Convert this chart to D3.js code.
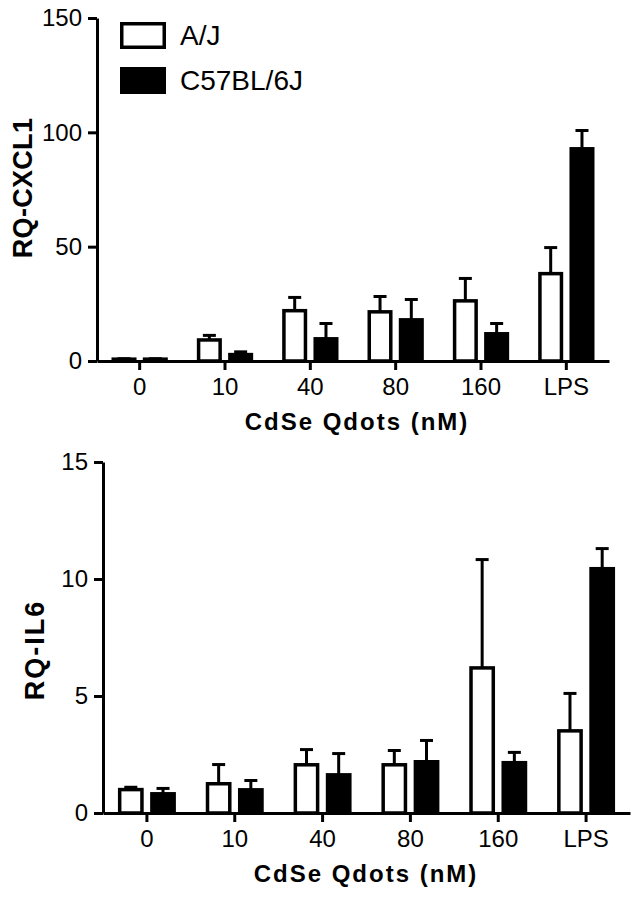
<!DOCTYPE html>
<html>
<head>
<meta charset="utf-8">
<script src="https://cdn.jsdelivr.net/npm/d3@7"></script>
<style>
  html, body { margin: 0; padding: 0; background: #fff; }
  svg { display: block; font-family: "Liberation Sans", Arial, sans-serif; }
</style>
</head>
<body>
<svg id="chart" width="638" height="911"></svg>
<script>
// ---- data ----
const categories = ["0", "10", "40", "80", "160", "LPS"];
const seriesNames = ["A/J", "C57BL/6J"];

const cxcl1AJ     = [0.8, 9.2, 22.0, 21.5, 26.3, 38.2];
const cxcl1AJErr  = [0.2, 2.0, 5.8, 6.7, 9.8, 11.4];
const cxcl1B6     = [0.8, 2.8, 9.7, 18.0, 11.9, 92.8];
const cxcl1B6Err  = [0.2, 1.2, 6.7, 8.9, 4.5, 8.0];

const il6AJ       = [1.0, 1.25, 2.06, 2.06, 6.2, 3.51];
const il6AJErr    = [0.1, 0.82, 0.65, 0.61, 4.63, 1.6];
const il6B6       = [0.82, 0.99, 1.63, 2.19, 2.15, 10.44];
const il6B6Err    = [0.23, 0.4, 0.91, 0.91, 0.44, 0.86];

const cxcl1Ticks = [0, 50, 100, 150];
const il6Ticks   = [0, 5, 10, 15];

const xTitle = "CdSe Qdots (nM)";

// ---- drawing ----
const svg = d3.select("#chart");

function panel(cfg) {
  const g = svg.append("g");
  const x = d3.scaleBand().domain(categories).range([cfg.x0, cfg.x1]).padding(0);
  const half = x.step() * 0.33;
  const inner = d3.scaleBand().domain(seriesNames).range([-half, half]).paddingInner(0.2).paddingOuter(0);
  const y = d3.scaleLinear().domain([cfg.ticks[0], cfg.ticks[cfg.ticks.length - 1]]).range([cfg.y0, cfg.y1]);

  const sw = 3.5;
  const series = [
    { name: seriesNames[0], vals: cfg.aj, errs: cfg.ajErr, fill: "#fff" },
    { name: seriesNames[1], vals: cfg.b6, errs: cfg.b6Err, fill: "#000" }
  ];

  series.forEach(s => {
    const rows = categories.map((c, i) => ({ c, v: s.vals[i], e: s.errs[i] }));
    const bx = d => x(d.c) + x.bandwidth() / 2 + inner(s.name);
    // error bars (upper only)
    g.selectAll(null).data(rows).enter().append("line")
      .attr("x1", d => bx(d) + inner.bandwidth() / 2)
      .attr("x2", d => bx(d) + inner.bandwidth() / 2)
      .attr("y1", d => y(d.v))
      .attr("y2", d => y(d.v + d.e))
      .attr("stroke", "#000").attr("stroke-width", 3);
    g.selectAll(null).data(rows).enter().append("line")
      .attr("x1", d => bx(d) + inner.bandwidth() / 2 - 6.5)
      .attr("x2", d => bx(d) + inner.bandwidth() / 2 + 6.5)
      .attr("y1", d => y(d.v + d.e))
      .attr("y2", d => y(d.v + d.e))
      .attr("stroke", "#000").attr("stroke-width", 3);
    // bars
    g.selectAll(null).data(rows).enter().append("rect")
      .attr("x", d => bx(d) + sw / 2)
      .attr("width", inner.bandwidth() - sw)
      .attr("y", d => y(d.v))
      .attr("height", d => Math.max(0, y(0) - y(d.v)))
      .attr("fill", s.fill)
      .attr("stroke", "#000").attr("stroke-width", sw);
  });

  // y axis
  const ya = g.append("g").attr("transform", `translate(${cfg.x0},0)`)
    .call(d3.axisLeft(y).tickValues(cfg.ticks).tickSize(9).tickSizeOuter(0).tickPadding(6));
  ya.select(".domain").attr("stroke-width", 3);
  ya.selectAll(".tick line").attr("stroke-width", 3);
  ya.selectAll("text").attr("font-size", 24).attr("fill", "#000")
    .attr("font-family", "Liberation Sans, Arial, sans-serif");

  // x axis
  const xa = g.append("g").attr("transform", `translate(0,${cfg.y0})`)
    .call(d3.axisBottom(x).tickSize(9).tickSizeOuter(0).tickPadding(8));
  xa.select(".domain").attr("stroke-width", 3);
  xa.selectAll(".tick line").attr("stroke-width", 3);
  xa.selectAll("text").attr("font-size", 24).attr("fill", "#000")
    .attr("font-family", "Liberation Sans, Arial, sans-serif");

  // x title
  g.append("text")
    .attr("x", cfg.xTitleX).attr("y", cfg.y0 + 69)
    .attr("text-anchor", "middle")
    .attr("font-size", 24).attr("font-weight", "bold")
    .attr("letter-spacing", 2)
    .text(xTitle);

  // y title
  g.append("text")
    .attr("transform", `translate(${cfg.yTitleX},${cfg.yTitleY}) rotate(-90)`)
    .attr("text-anchor", "middle")
    .attr("font-size", 27).attr("font-weight", "bold")
    .attr("letter-spacing", cfg.yTitleSpacing)
    .text(cfg.yTitle);
}

panel({
  x0: 97, x1: 609, y0: 361, y1: 18,
  ticks: cxcl1Ticks,
  aj: cxcl1AJ, ajErr: cxcl1AJErr, b6: cxcl1B6, b6Err: cxcl1B6Err,
  yTitle: "RQ-CXCL1", yTitleX: 32, yTitleY: 188, yTitleSpacing: 0.3, xTitleX: 357
});

panel({
  x0: 103, x1: 630, y0: 813, y1: 462,
  ticks: il6Ticks,
  aj: il6AJ, ajErr: il6AJErr, b6: il6B6, b6Err: il6B6Err,
  yTitle: "RQ-IL6", yTitleX: 44, yTitleY: 650, yTitleSpacing: 2, xTitleX: 366
});

// legend
const legend = svg.append("g");
const legendFills = ["#fff", "#000"];
seriesNames.forEach((name, i) => {
  const ly = 22 + i * 45;
  legend.append("rect")
    .attr("x", 121.75).attr("y", ly + 1.75)
    .attr("width", 42.5).attr("height", 23.5)
    .attr("fill", legendFills[i]).attr("stroke", "#000").attr("stroke-width", 3.5);
  legend.append("text")
    .attr("x", 180).attr("y", ly + 23)
    .attr("font-size", 28)
    .text(name);
});
</script>
</body>
</html>
